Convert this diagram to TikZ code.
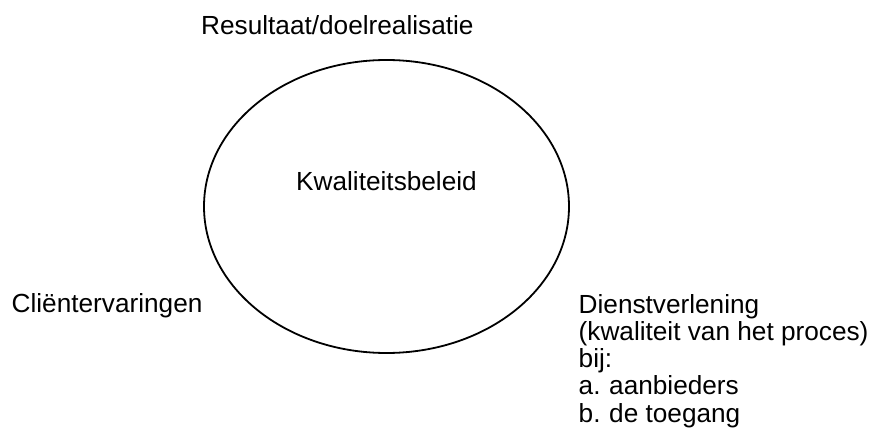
\documentclass[tikz,border=0pt]{standalone}
\usepackage{fontspec}
\setmainfont{Liberation Sans}
\usetikzlibrary{shapes.geometric}
\begin{document}
\begin{tikzpicture}[x=1pt,y=1pt,
  lbl/.style={anchor=base west, inner sep=0pt, font=\fontsize{26.2}{27.2}\selectfont},
  ring/.style={ellipse, draw, line width=1.8pt, minimum width=365pt, minimum height=293pt, inner sep=0pt}]
\useasboundingbox (0,0) rectangle (876,440);
% central ellipse
\node[ring] (beleid) at (386.5,233.5) {};
\node[lbl, anchor=base] (kwal) at (386.5,250) {Kwaliteitsbeleid};
% surrounding labels
\node[lbl] (result) at (201,405) {Resultaat/doelrealisatie};
\node[lbl] (client) at (11.5,128) {Cliëntervaringen};
\node[lbl] (dienst) at (578.5,126.7) {Dienstverlening};
\node[lbl] (proces) at (578.5,99.5) {(kwaliteit van het proces)};
\node[lbl] (bij) at (578.5,72.3) {bij:};
\node[lbl] (ia) at (578.5,45.1) {a.};
\node[lbl] (aanb) at (609,45.1) {aanbieders};
\node[lbl] (ib) at (578.5,17.9) {b.};
\node[lbl] (toeg) at (609,17.9) {de toegang};
\end{tikzpicture}
\end{document}
